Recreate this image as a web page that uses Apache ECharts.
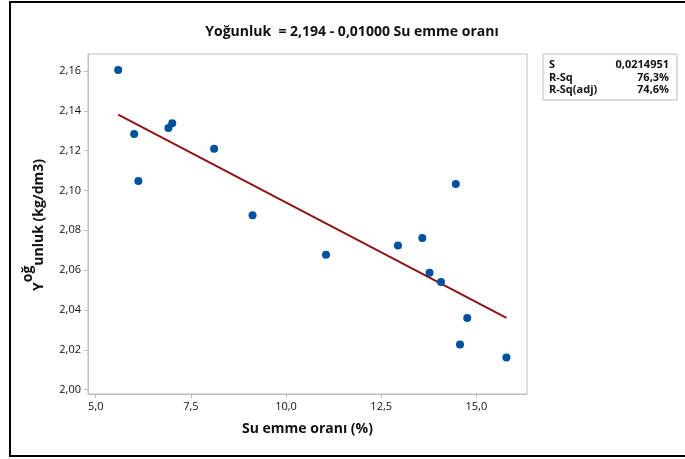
<!DOCTYPE html>
<html>
<head>
<meta charset="utf-8">
<script src="https://cdn.jsdelivr.net/npm/echarts@6/dist/echarts.min.js"></script>
<style>
html,body{margin:0;padding:0;background:#fff;}
#c{width:685px;height:459px;}
</style>
</head>
<body>
<div id="c"></div>
<script>
// Data
var suEmme = [5.59, 6.01, 6.12, 6.91, 7.01, 8.11, 9.12, 11.05, 12.94, 13.58, 13.77, 14.07, 14.46, 14.57, 14.76, 15.79];
var yogunluk = [2.1605, 2.1284, 2.1047, 2.1313, 2.1338, 2.1209, 2.0876, 2.0677, 2.0724, 2.0762, 2.0587, 2.0540, 2.1033, 2.0227, 2.0360, 2.0161];
var intercept = 2.194;
var slope = -0.01;
var xTicks = [5, 7.5, 10, 12.5, 15];
var yTicks = [2.00, 2.02, 2.04, 2.06, 2.08, 2.10, 2.12, 2.14, 2.16];
var statLabels = ['S', 'R-Sq', 'R-Sq(adj)'];
var statValues = ['0,0214951', '76,3%', '74,6%'];

var FONT = 'Open Sans';
var points = suEmme.map(function (x, i) { return [x, yogunluk[i]]; });
var xMin = Math.min.apply(null, suEmme), xMax = Math.max.apply(null, suEmme);
var fitLine = [[xMin, intercept + slope * xMin], [xMax, intercept + slope * xMax]];

var gray = '#bdbdbd';
var chart = echarts.init(document.getElementById('c'), null, {renderer: 'canvas'});

var statGraphics = [{
  type: 'rect', shape: {x: 543, y: 54, width: 134, height: 46},
  style: {fill: '#fff', stroke: gray, lineWidth: 1}
}];
statLabels.forEach(function (l, i) {
  statGraphics.push({type: 'text', x: 549, y: 65 + i * 12.5,
    style: {text: l, font: 'bold 11px "' + FONT + '"', fill: '#111', textVerticalAlign: 'middle', textAlign: 'left'}});
  statGraphics.push({type: 'text', x: 669, y: 65 + i * 12.5,
    style: {text: statValues[i], font: 'bold 11px "' + FONT + '"', fill: '#111', textVerticalAlign: 'middle', textAlign: 'right'}});
});

var richA = {fontFamily: FONT, fontSize: 14, fontWeight: 'bold', color: '#111', lineHeight: 14, verticalAlign: 'bottom'};
var richB = {fontFamily: FONT, fontSize: 14, fontWeight: 'bold', color: '#111', lineHeight: 14, verticalAlign: 'top'};
var richC = {fontFamily: FONT, fontSize: 14, lineHeight: 25, verticalAlign: 'middle'};

var option = {
  animation: false,
  backgroundColor: '#fff',
  grid: {left: 88, right: 158, top: 54, bottom: 65, show: true, borderColor: gray, borderWidth: 1},
  xAxis: {
    type: 'value', min: 4.797, max: 16.33,
    splitLine: {show: false},
    axisLine: {show: true, onZero: false, lineStyle: {color: gray}},
    axisTick: {show: true, length: 4, lineStyle: {color: gray}, customValues: xTicks},
    axisLabel: {customValues: xTicks, margin: 7, color: '#111', fontFamily: FONT, fontSize: 11,
      formatter: function (v) { return v.toFixed(1).replace('.', ','); }},
    name: 'Su emme oranı (%)', nameLocation: 'middle', nameGap: 28,
    nameTextStyle: {fontFamily: FONT, fontSize: 14, color: '#111', fontWeight: 'bold'}
  },
  yAxis: {
    type: 'value', min: 1.99784, max: 2.1685,
    splitLine: {show: false},
    axisLine: {show: true, onZero: false, lineStyle: {color: gray}},
    axisTick: {show: true, length: 4, lineStyle: {color: gray}, customValues: yTicks},
    axisLabel: {customValues: yTicks, margin: 7, color: '#111', fontFamily: FONT, fontSize: 11,
      formatter: function (v) { return v.toFixed(2).replace('.', ','); }}
  },
  graphic: [
    {type: 'rect', shape: {x: 10, y: 2, width: 700, height: 454}, style: {fill: 'none', stroke: '#000', lineWidth: 2}, z: 10},
    {type: 'text', x: 352, y: 32, style: {text: 'Yoğunluk  = 2,194 - 0,01000 Su emme oranı', font: 'bold 14px "' + FONT + '"', fill: '#111', textAlign: 'center', textVerticalAlign: 'middle'}},
    {type: 'text', x: 34, y: 225, rotation: Math.PI / 2,
      style: {text: '{c|\u200b}{a|Y}{b|oğ}{a|unluk (kg/dm3)}', textAlign: 'center', textVerticalAlign: 'middle',
        font: 'bold 14px "' + FONT + '"', fill: '#111',
        rich: {a: richA, b: richB, c: richC}}}
  ].concat(statGraphics),
  series: [
    {type: 'line', data: fitLine, symbol: 'none', lineStyle: {color: '#8c1515', width: 2}, z: 2},
    {type: 'scatter', data: points, symbol: 'circle', symbolSize: 8, itemStyle: {color: '#0050a0', opacity: 1}, z: 3}
  ]
};
chart.setOption(option);
</script>
</body>
</html>
